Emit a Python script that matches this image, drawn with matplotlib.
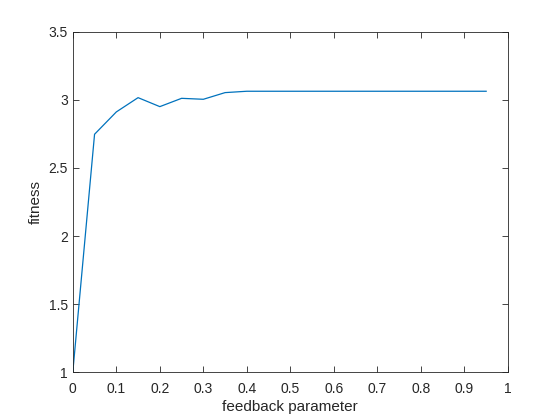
import matplotlib
matplotlib.use("Agg")
import matplotlib.pyplot as plt
import numpy as np

x = [0.0, 0.05, 0.10, 0.15, 0.20, 0.25, 0.30, 0.35, 0.40, 0.45, 0.50, 0.55,
     0.60, 0.65, 0.70, 0.75, 0.80, 0.85, 0.90, 0.95]
fitness = [1.0, 2.748, 2.912, 3.017, 2.951, 3.012, 3.005, 3.054, 3.064, 3.064,
           3.064, 3.064, 3.064, 3.064, 3.064, 3.064, 3.064, 3.064, 3.064, 3.064]
xticks = [0, 0.1, 0.2, 0.3, 0.4, 0.5, 0.6, 0.7, 0.8, 0.9, 1]
xticklabels = ["0", "0.1", "0.2", "0.3", "0.4", "0.5", "0.6", "0.7", "0.8", "0.9", "1"]
yticks = [1, 1.5, 2, 2.5, 3, 3.5]
yticklabels = ["1", "1.5", "2", "2.5", "3", "3.5"]

plt.rcParams['font.family'] = ['Liberation Sans', 'DejaVu Sans']

fig = plt.figure(figsize=(5.6, 4.2), dpi=100)
ax = fig.add_axes([0.13, 0.114, 0.777, 0.81])
ax.plot(x, fitness, color='#0072BD', linewidth=0.9)
ax.set_xlim(0, 1)
ax.set_ylim(1, 3.5)
ax.set_xticks(xticks)
ax.set_xticklabels(xticklabels)
ax.set_yticks(yticks)
ax.set_yticklabels(yticklabels)
ax.tick_params(direction='in', length=4, width=0.6, colors='#262626', labelsize=10,
               top=True, right=True, labeltop=False, labelright=False)
ax.tick_params(axis='x', pad=7)
for s in ax.spines.values():
    s.set_linewidth(0.6)
    s.set_color('#262626')
ax.set_xlabel('feedback parameter', fontsize=11, color='#262626', labelpad=3)
ax.set_ylabel('fitness', fontsize=11, color='#262626')
fig.savefig('out.png', dpi=100)
